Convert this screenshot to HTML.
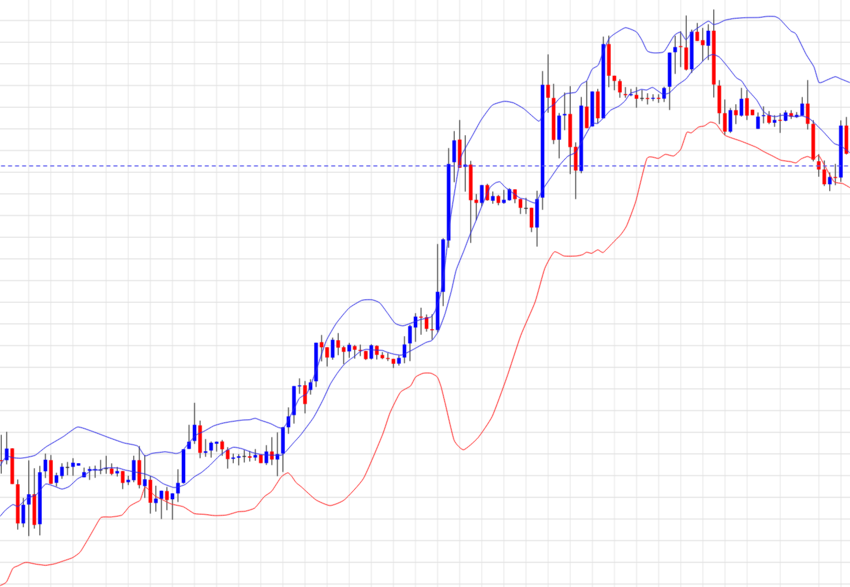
<!DOCTYPE html><html><head><meta charset="utf-8"><style>html,body{margin:0;padding:0;background:#fff;width:850px;height:587px;overflow:hidden}svg{display:block}#w{width:850px;height:587px}</style></head><body>
<div id="w">
<svg width="850" height="587" viewBox="0 0 850 587">
<defs><g id="c"><rect x="-5" y="-5" width="860" height="597" fill="#fff"/>
<g stroke="#efefef" stroke-width="1.1">
<line x1="28.7" y1="-5" x2="28.7" y2="592"/>
<line x1="50.8" y1="-5" x2="50.8" y2="592"/>
<line x1="72.9" y1="-5" x2="72.9" y2="592"/>
<line x1="106.1" y1="-5" x2="106.1" y2="592"/>
<line x1="128.2" y1="-5" x2="128.2" y2="592"/>
<line x1="150.3" y1="-5" x2="150.3" y2="592"/>
<line x1="172.4" y1="-5" x2="172.4" y2="592"/>
<line x1="194.5" y1="-5" x2="194.5" y2="592"/>
<line x1="216.6" y1="-5" x2="216.6" y2="592"/>
<line x1="238.7" y1="-5" x2="238.7" y2="592"/>
<line x1="260.8" y1="-5" x2="260.8" y2="592"/>
<line x1="282.9" y1="-5" x2="282.9" y2="592"/>
<line x1="305.0" y1="-5" x2="305.0" y2="592"/>
<line x1="327.1" y1="-5" x2="327.1" y2="592"/>
<line x1="349.2" y1="-5" x2="349.2" y2="592"/>
<line x1="371.3" y1="-5" x2="371.3" y2="592"/>
<line x1="393.4" y1="-5" x2="393.4" y2="592"/>
<line x1="415.5" y1="-5" x2="415.5" y2="592"/>
<line x1="437.6" y1="-5" x2="437.6" y2="592"/>
<line x1="459.7" y1="-5" x2="459.7" y2="592"/>
<line x1="481.8" y1="-5" x2="481.8" y2="592"/>
<line x1="503.9" y1="-5" x2="503.9" y2="592"/>
<line x1="526.0" y1="-5" x2="526.0" y2="592"/>
<line x1="548.1" y1="-5" x2="548.1" y2="592"/>
<line x1="570.2" y1="-5" x2="570.2" y2="592"/>
<line x1="592.4" y1="-5" x2="592.4" y2="592"/>
<line x1="614.5" y1="-5" x2="614.5" y2="592"/>
<line x1="636.6" y1="-5" x2="636.6" y2="592"/>
<line x1="658.7" y1="-5" x2="658.7" y2="592"/>
<line x1="680.8" y1="-5" x2="680.8" y2="592"/>
<line x1="702.9" y1="-5" x2="702.9" y2="592"/>
<line x1="725.0" y1="-5" x2="725.0" y2="592"/>
<line x1="747.1" y1="-5" x2="747.1" y2="592"/>
<line x1="780.2" y1="-5" x2="780.2" y2="592"/>
<line x1="818.9" y1="-5" x2="818.9" y2="592"/>
<line x1="841.0" y1="-5" x2="841.0" y2="592"/>
</g><g stroke="#e3e3e3" stroke-width="1">
<line x1="-5" y1="20.5" x2="855" y2="20.5"/>
<line x1="-5" y1="42.2" x2="855" y2="42.2"/>
<line x1="-5" y1="63.8" x2="855" y2="63.8"/>
<line x1="-5" y1="85.5" x2="855" y2="85.5"/>
<line x1="-5" y1="107.2" x2="855" y2="107.2"/>
<line x1="-5" y1="128.9" x2="855" y2="128.9"/>
<line x1="-5" y1="150.5" x2="855" y2="150.5"/>
<line x1="-5" y1="172.2" x2="855" y2="172.2"/>
<line x1="-5" y1="193.9" x2="855" y2="193.9"/>
<line x1="-5" y1="215.5" x2="855" y2="215.5"/>
<line x1="-5" y1="237.2" x2="855" y2="237.2"/>
<line x1="-5" y1="258.9" x2="855" y2="258.9"/>
<line x1="-5" y1="280.6" x2="855" y2="280.6"/>
<line x1="-5" y1="302.2" x2="855" y2="302.2"/>
<line x1="-5" y1="323.9" x2="855" y2="323.9"/>
<line x1="-5" y1="345.6" x2="855" y2="345.6"/>
<line x1="-5" y1="367.3" x2="855" y2="367.3"/>
<line x1="-5" y1="388.9" x2="855" y2="388.9"/>
<line x1="-5" y1="410.6" x2="855" y2="410.6"/>
<line x1="-5" y1="432.3" x2="855" y2="432.3"/>
<line x1="-5" y1="453.9" x2="855" y2="453.9"/>
<line x1="-5" y1="475.6" x2="855" y2="475.6"/>
<line x1="-5" y1="497.3" x2="855" y2="497.3"/>
<line x1="-5" y1="519.0" x2="855" y2="519.0"/>
<line x1="-5" y1="540.6" x2="855" y2="540.6"/>
<line x1="-5" y1="562.3" x2="855" y2="562.3"/>
<line x1="-5" y1="584.0" x2="855" y2="584.0"/>
</g>
<g stroke="#4a4a4a" stroke-width="1">
<line x1="1.20" y1="434.8" x2="1.20" y2="473.6"/>
<line x1="6.72" y1="431.8" x2="6.72" y2="464.4"/>
<line x1="12.25" y1="448.4" x2="12.25" y2="484.0"/>
<line x1="17.77" y1="479.5" x2="17.77" y2="529.6"/>
<line x1="23.30" y1="497.9" x2="23.30" y2="527.2"/>
<line x1="28.82" y1="460.4" x2="28.82" y2="536.1"/>
<line x1="34.34" y1="468.3" x2="34.34" y2="528.6"/>
<line x1="39.87" y1="465.9" x2="39.87" y2="535.4"/>
<line x1="45.39" y1="453.6" x2="45.39" y2="478.0"/>
<line x1="50.92" y1="455.0" x2="50.92" y2="484.0"/>
<line x1="56.44" y1="472.7" x2="56.44" y2="486.5"/>
<line x1="61.96" y1="463.3" x2="61.96" y2="478.8"/>
<line x1="67.49" y1="462.0" x2="67.49" y2="475.3"/>
<line x1="73.01" y1="458.2" x2="73.01" y2="475.8"/>
<line x1="78.54" y1="463.3" x2="78.54" y2="465.6"/>
<line x1="84.06" y1="467.6" x2="84.06" y2="477.3"/>
<line x1="89.59" y1="466.4" x2="89.59" y2="479.9"/>
<line x1="95.11" y1="465.6" x2="95.11" y2="477.8"/>
<line x1="100.63" y1="459.9" x2="100.63" y2="474.2"/>
<line x1="106.16" y1="455.8" x2="106.16" y2="473.7"/>
<line x1="111.68" y1="463.4" x2="111.68" y2="475.2"/>
<line x1="117.21" y1="467.0" x2="117.21" y2="476.5"/>
<line x1="122.73" y1="471.1" x2="122.73" y2="489.1"/>
<line x1="128.25" y1="475.7" x2="128.25" y2="485.0"/>
<line x1="133.78" y1="455.7" x2="133.78" y2="482.2"/>
<line x1="139.30" y1="446.1" x2="139.30" y2="488.4"/>
<line x1="144.83" y1="455.0" x2="144.83" y2="497.9"/>
<line x1="150.35" y1="476.0" x2="150.35" y2="513.6"/>
<line x1="155.87" y1="485.7" x2="155.87" y2="511.6"/>
<line x1="161.40" y1="490.7" x2="161.40" y2="519.0"/>
<line x1="166.92" y1="487.0" x2="166.92" y2="510.2"/>
<line x1="172.45" y1="493.4" x2="172.45" y2="519.7"/>
<line x1="177.97" y1="469.3" x2="177.97" y2="502.0"/>
<line x1="183.49" y1="449.3" x2="183.49" y2="483.6"/>
<line x1="189.02" y1="424.8" x2="189.02" y2="448.9"/>
<line x1="194.54" y1="402.8" x2="194.54" y2="443.9"/>
<line x1="200.07" y1="420.6" x2="200.07" y2="458.2"/>
<line x1="205.59" y1="439.1" x2="205.59" y2="456.8"/>
<line x1="211.12" y1="441.5" x2="211.12" y2="457.6"/>
<line x1="216.64" y1="441.5" x2="216.64" y2="451.6"/>
<line x1="222.16" y1="440.0" x2="222.16" y2="455.8"/>
<line x1="227.69" y1="447.2" x2="227.69" y2="468.6"/>
<line x1="233.21" y1="453.6" x2="233.21" y2="463.2"/>
<line x1="238.74" y1="454.1" x2="238.74" y2="465.4"/>
<line x1="244.26" y1="449.9" x2="244.26" y2="462.5"/>
<line x1="249.78" y1="451.1" x2="249.78" y2="461.5"/>
<line x1="255.31" y1="449.1" x2="255.31" y2="460.7"/>
<line x1="260.83" y1="454.7" x2="260.83" y2="463.1"/>
<line x1="266.36" y1="445.2" x2="266.36" y2="464.9"/>
<line x1="271.88" y1="437.2" x2="271.88" y2="465.1"/>
<line x1="277.40" y1="432.4" x2="277.40" y2="476.2"/>
<line x1="282.93" y1="427.0" x2="282.93" y2="472.0"/>
<line x1="288.45" y1="407.4" x2="288.45" y2="433.8"/>
<line x1="293.98" y1="386.1" x2="293.98" y2="423.6"/>
<line x1="299.50" y1="378.4" x2="299.50" y2="393.8"/>
<line x1="305.02" y1="381.0" x2="305.02" y2="413.4"/>
<line x1="310.55" y1="379.3" x2="310.55" y2="394.6"/>
<line x1="316.07" y1="342.7" x2="316.07" y2="387.0"/>
<line x1="321.60" y1="335.0" x2="321.60" y2="361.4"/>
<line x1="327.12" y1="347.3" x2="327.12" y2="366.5"/>
<line x1="332.65" y1="337.6" x2="332.65" y2="359.7"/>
<line x1="338.17" y1="333.1" x2="338.17" y2="355.2"/>
<line x1="343.69" y1="345.9" x2="343.69" y2="364.2"/>
<line x1="349.22" y1="342.9" x2="349.22" y2="357.8"/>
<line x1="354.74" y1="345.0" x2="354.74" y2="358.6"/>
<line x1="360.27" y1="344.6" x2="360.27" y2="356.1"/>
<line x1="365.79" y1="351.0" x2="365.79" y2="359.9"/>
<line x1="371.31" y1="344.2" x2="371.31" y2="359.5"/>
<line x1="376.84" y1="345.4" x2="376.84" y2="359.5"/>
<line x1="382.36" y1="352.1" x2="382.36" y2="359.1"/>
<line x1="387.89" y1="353.0" x2="387.89" y2="361.0"/>
<line x1="393.41" y1="358.8" x2="393.41" y2="368.0"/>
<line x1="398.93" y1="355.4" x2="398.93" y2="365.6"/>
<line x1="404.46" y1="336.3" x2="404.46" y2="363.3"/>
<line x1="409.98" y1="324.8" x2="409.98" y2="361.1"/>
<line x1="415.51" y1="313.2" x2="415.51" y2="341.8"/>
<line x1="421.03" y1="307.7" x2="421.03" y2="334.7"/>
<line x1="426.56" y1="314.5" x2="426.56" y2="331.6"/>
<line x1="432.08" y1="314.3" x2="432.08" y2="339.7"/>
<line x1="437.60" y1="244.0" x2="437.60" y2="332.4"/>
<line x1="443.13" y1="238.2" x2="443.13" y2="306.1"/>
<line x1="448.65" y1="148.1" x2="448.65" y2="247.7"/>
<line x1="454.18" y1="131.1" x2="454.18" y2="182.2"/>
<line x1="459.70" y1="120.0" x2="459.70" y2="167.7"/>
<line x1="465.22" y1="135.3" x2="465.22" y2="191.6"/>
<line x1="470.75" y1="160.9" x2="470.75" y2="242.9"/>
<line x1="476.27" y1="194.0" x2="476.27" y2="220.1"/>
<line x1="481.80" y1="185.1" x2="481.80" y2="206.3"/>
<line x1="487.32" y1="183.8" x2="487.32" y2="200.7"/>
<line x1="492.84" y1="191.5" x2="492.84" y2="203.7"/>
<line x1="498.37" y1="195.0" x2="498.37" y2="205.3"/>
<line x1="503.89" y1="189.9" x2="503.89" y2="203.7"/>
<line x1="509.42" y1="188.2" x2="509.42" y2="200.7"/>
<line x1="514.94" y1="189.4" x2="514.94" y2="203.2"/>
<line x1="520.46" y1="199.1" x2="520.46" y2="214.0"/>
<line x1="525.99" y1="197.8" x2="525.99" y2="214.0"/>
<line x1="531.51" y1="207.8" x2="531.51" y2="232.1"/>
<line x1="537.04" y1="190.7" x2="537.04" y2="246.6"/>
<line x1="542.56" y1="71.1" x2="542.56" y2="209.8"/>
<line x1="548.09" y1="54.4" x2="548.09" y2="112.7"/>
<line x1="553.61" y1="83.8" x2="553.61" y2="144.1"/>
<line x1="559.13" y1="113.0" x2="559.13" y2="158.4"/>
<line x1="564.66" y1="92.5" x2="564.66" y2="130.2"/>
<line x1="570.18" y1="86.1" x2="570.18" y2="174.1"/>
<line x1="575.71" y1="142.4" x2="575.71" y2="199.1"/>
<line x1="581.23" y1="97.0" x2="581.23" y2="173.2"/>
<line x1="586.75" y1="81.1" x2="586.75" y2="128.1"/>
<line x1="592.28" y1="91.5" x2="592.28" y2="126.4"/>
<line x1="597.80" y1="88.9" x2="597.80" y2="123.4"/>
<line x1="603.33" y1="36.6" x2="603.33" y2="118.3"/>
<line x1="608.85" y1="35.6" x2="608.85" y2="87.2"/>
<line x1="614.37" y1="75.7" x2="614.37" y2="90.3"/>
<line x1="619.90" y1="79.2" x2="619.90" y2="97.7"/>
<line x1="625.42" y1="87.1" x2="625.42" y2="97.7"/>
<line x1="630.95" y1="88.9" x2="630.95" y2="96.2"/>
<line x1="636.47" y1="87.1" x2="636.47" y2="107.7"/>
<line x1="642.00" y1="89.9" x2="642.00" y2="101.0"/>
<line x1="647.52" y1="93.3" x2="647.52" y2="104.5"/>
<line x1="653.04" y1="94.3" x2="653.04" y2="101.1"/>
<line x1="658.57" y1="94.3" x2="658.57" y2="102.8"/>
<line x1="664.09" y1="86.7" x2="664.09" y2="102.0"/>
<line x1="669.62" y1="52.6" x2="669.62" y2="110.0"/>
<line x1="675.14" y1="35.6" x2="675.14" y2="73.9"/>
<line x1="680.66" y1="31.3" x2="680.66" y2="67.1"/>
<line x1="686.19" y1="15.5" x2="686.19" y2="70.5"/>
<line x1="691.71" y1="29.6" x2="691.71" y2="73.0"/>
<line x1="697.24" y1="23.0" x2="697.24" y2="40.9"/>
<line x1="702.76" y1="27.9" x2="702.76" y2="61.3"/>
<line x1="708.28" y1="24.3" x2="708.28" y2="60.0"/>
<line x1="713.81" y1="9.5" x2="713.81" y2="97.5"/>
<line x1="719.33" y1="80.2" x2="719.33" y2="124.1"/>
<line x1="724.86" y1="99.5" x2="724.86" y2="135.0"/>
<line x1="730.38" y1="108.0" x2="730.38" y2="132.9"/>
<line x1="735.90" y1="104.3" x2="735.90" y2="124.1"/>
<line x1="741.43" y1="87.9" x2="741.43" y2="116.6"/>
<line x1="746.95" y1="90.0" x2="746.95" y2="120.0"/>
<line x1="752.48" y1="109.7" x2="752.48" y2="115.2"/>
<line x1="758.00" y1="112.5" x2="758.00" y2="128.8"/>
<line x1="763.53" y1="106.4" x2="763.53" y2="123.4"/>
<line x1="769.05" y1="111.1" x2="769.05" y2="124.1"/>
<line x1="774.57" y1="115.2" x2="774.57" y2="126.8"/>
<line x1="780.10" y1="113.2" x2="780.10" y2="132.9"/>
<line x1="785.62" y1="110.4" x2="785.62" y2="121.3"/>
<line x1="791.15" y1="110.2" x2="791.15" y2="118.9"/>
<line x1="796.67" y1="112.1" x2="796.67" y2="117.9"/>
<line x1="802.19" y1="97.1" x2="802.19" y2="115.6"/>
<line x1="807.72" y1="80.1" x2="807.72" y2="129.5"/>
<line x1="813.24" y1="120.2" x2="813.24" y2="161.4"/>
<line x1="818.77" y1="154.2" x2="818.77" y2="176.7"/>
<line x1="824.29" y1="160.5" x2="824.29" y2="186.0"/>
<line x1="829.81" y1="172.4" x2="829.81" y2="191.1"/>
<line x1="835.34" y1="163.9" x2="835.34" y2="185.2"/>
<line x1="840.86" y1="120.4" x2="840.86" y2="181.8"/>
<line x1="846.39" y1="117.0" x2="846.39" y2="154.5"/>
</g>
<rect x="-0.60" y="460.2" width="3.6" height="1.0" fill="#ff0000"/>
<rect x="4.92" y="448.6" width="3.6" height="11.6" fill="#0000ff"/>
<rect x="10.45" y="448.4" width="3.6" height="35.6" fill="#ff0000"/>
<rect x="15.97" y="484.3" width="3.6" height="39.1" fill="#ff0000"/>
<rect x="21.50" y="504.8" width="3.6" height="18.6" fill="#0000ff"/>
<rect x="27.02" y="494.3" width="3.6" height="10.2" fill="#0000ff"/>
<rect x="32.54" y="494.3" width="3.6" height="30.6" fill="#ff0000"/>
<rect x="38.07" y="472.3" width="3.6" height="51.9" fill="#0000ff"/>
<rect x="43.59" y="459.7" width="3.6" height="11.6" fill="#0000ff"/>
<rect x="49.12" y="460.2" width="3.6" height="23.5" fill="#ff0000"/>
<rect x="54.64" y="475.3" width="3.6" height="7.5" fill="#0000ff"/>
<rect x="60.16" y="466.8" width="3.6" height="9.2" fill="#0000ff"/>
<rect x="65.69" y="466.9" width="3.6" height="1" fill="#303030"/>
<rect x="71.21" y="462.7" width="3.6" height="4.1" fill="#0000ff"/>
<rect x="76.74" y="463.3" width="3.6" height="2.3" fill="#0000ff"/>
<rect x="82.26" y="472.2" width="3.6" height="5.1" fill="#0000ff"/>
<rect x="87.79" y="469.1" width="3.6" height="1.6" fill="#0000ff"/>
<rect x="93.31" y="469.1" width="3.6" height="1.3" fill="#0000ff"/>
<rect x="98.83" y="469.5" width="3.6" height="1" fill="#303030"/>
<rect x="104.36" y="468.1" width="3.6" height="1" fill="#303030"/>
<rect x="109.88" y="468.6" width="3.6" height="5.2" fill="#ff0000"/>
<rect x="115.41" y="471.1" width="3.6" height="2.3" fill="#0000ff"/>
<rect x="120.93" y="471.1" width="3.6" height="11.8" fill="#ff0000"/>
<rect x="126.45" y="479.8" width="3.6" height="2.4" fill="#0000ff"/>
<rect x="131.98" y="460.2" width="3.6" height="20.0" fill="#0000ff"/>
<rect x="137.50" y="460.2" width="3.6" height="24.8" fill="#ff0000"/>
<rect x="143.03" y="479.3" width="3.6" height="6.8" fill="#0000ff"/>
<rect x="148.55" y="479.8" width="3.6" height="22.9" fill="#ff0000"/>
<rect x="154.07" y="498.6" width="3.6" height="4.4" fill="#0000ff"/>
<rect x="159.60" y="490.7" width="3.6" height="8.2" fill="#0000ff"/>
<rect x="165.12" y="491.1" width="3.6" height="8.9" fill="#ff0000"/>
<rect x="170.65" y="493.4" width="3.6" height="5.9" fill="#0000ff"/>
<rect x="176.17" y="482.9" width="3.6" height="10.5" fill="#0000ff"/>
<rect x="181.69" y="449.3" width="3.6" height="33.6" fill="#0000ff"/>
<rect x="187.22" y="441.7" width="3.6" height="7.2" fill="#0000ff"/>
<rect x="192.74" y="424.8" width="3.6" height="16.1" fill="#0000ff"/>
<rect x="198.27" y="425.4" width="3.6" height="27.4" fill="#ff0000"/>
<rect x="203.79" y="451.3" width="3.6" height="1.5" fill="#0000ff"/>
<rect x="209.32" y="442.7" width="3.6" height="7.8" fill="#0000ff"/>
<rect x="214.84" y="441.7" width="3.6" height="2.0" fill="#0000ff"/>
<rect x="220.36" y="441.5" width="3.6" height="7.8" fill="#ff0000"/>
<rect x="225.89" y="449.9" width="3.6" height="9.2" fill="#ff0000"/>
<rect x="231.41" y="457.5" width="3.6" height="1.3" fill="#0000ff"/>
<rect x="236.94" y="456.3" width="3.6" height="1.4" fill="#0000ff"/>
<rect x="242.46" y="455.9" width="3.6" height="1" fill="#303030"/>
<rect x="247.98" y="456.3" width="3.6" height="1.4" fill="#ff0000"/>
<rect x="253.51" y="455.0" width="3.6" height="2.5" fill="#0000ff"/>
<rect x="259.03" y="454.7" width="3.6" height="8.4" fill="#ff0000"/>
<rect x="264.56" y="451.5" width="3.6" height="11.6" fill="#0000ff"/>
<rect x="270.08" y="451.5" width="3.6" height="8.0" fill="#ff0000"/>
<rect x="275.60" y="454.1" width="3.6" height="5.4" fill="#0000ff"/>
<rect x="281.13" y="427.3" width="3.6" height="26.2" fill="#0000ff"/>
<rect x="286.65" y="416.4" width="3.6" height="10.9" fill="#0000ff"/>
<rect x="292.18" y="386.1" width="3.6" height="29.0" fill="#0000ff"/>
<rect x="297.70" y="385.4" width="3.6" height="1.0" fill="#0000ff"/>
<rect x="303.22" y="385.3" width="3.6" height="18.7" fill="#ff0000"/>
<rect x="308.75" y="382.4" width="3.6" height="7.5" fill="#0000ff"/>
<rect x="314.27" y="342.7" width="3.6" height="38.6" fill="#0000ff"/>
<rect x="319.80" y="342.2" width="3.6" height="5.1" fill="#ff0000"/>
<rect x="325.32" y="347.3" width="3.6" height="10.2" fill="#ff0000"/>
<rect x="330.85" y="339.8" width="3.6" height="17.8" fill="#0000ff"/>
<rect x="336.37" y="340.3" width="3.6" height="7.3" fill="#ff0000"/>
<rect x="341.89" y="347.3" width="3.6" height="4.5" fill="#ff0000"/>
<rect x="347.42" y="344.8" width="3.6" height="6.6" fill="#0000ff"/>
<rect x="352.94" y="346.1" width="3.6" height="3.6" fill="#ff0000"/>
<rect x="358.47" y="349.9" width="3.6" height="1.0" fill="#ff0000"/>
<rect x="363.99" y="351.0" width="3.6" height="8.1" fill="#ff0000"/>
<rect x="369.51" y="345.3" width="3.6" height="13.3" fill="#0000ff"/>
<rect x="375.04" y="345.9" width="3.6" height="8.9" fill="#ff0000"/>
<rect x="380.56" y="355.0" width="3.6" height="3.2" fill="#ff0000"/>
<rect x="386.09" y="358.0" width="3.6" height="1.0" fill="#ff0000"/>
<rect x="391.61" y="358.9" width="3.6" height="4.8" fill="#ff0000"/>
<rect x="397.13" y="357.9" width="3.6" height="5.7" fill="#0000ff"/>
<rect x="402.66" y="344.5" width="3.6" height="13.0" fill="#0000ff"/>
<rect x="408.18" y="326.1" width="3.6" height="17.3" fill="#0000ff"/>
<rect x="413.71" y="316.6" width="3.6" height="10.9" fill="#0000ff"/>
<rect x="419.23" y="316.6" width="3.6" height="1.0" fill="#ff0000"/>
<rect x="424.76" y="317.3" width="3.6" height="11.5" fill="#ff0000"/>
<rect x="430.28" y="329.3" width="3.6" height="1.0" fill="#ff0000"/>
<rect x="435.80" y="291.8" width="3.6" height="38.2" fill="#0000ff"/>
<rect x="441.33" y="239.4" width="3.6" height="52.4" fill="#0000ff"/>
<rect x="446.85" y="164.0" width="3.6" height="76.5" fill="#0000ff"/>
<rect x="452.38" y="140.4" width="3.6" height="21.8" fill="#0000ff"/>
<rect x="457.90" y="139.6" width="3.6" height="28.1" fill="#ff0000"/>
<rect x="463.42" y="164.6" width="3.6" height="2.2" fill="#0000ff"/>
<rect x="468.95" y="164.6" width="3.6" height="35.6" fill="#ff0000"/>
<rect x="474.47" y="199.8" width="3.6" height="3.1" fill="#ff0000"/>
<rect x="480.00" y="185.1" width="3.6" height="17.8" fill="#0000ff"/>
<rect x="485.52" y="185.1" width="3.6" height="15.1" fill="#ff0000"/>
<rect x="491.04" y="196.1" width="3.6" height="4.6" fill="#0000ff"/>
<rect x="496.57" y="196.1" width="3.6" height="6.8" fill="#ff0000"/>
<rect x="502.09" y="199.8" width="3.6" height="3.1" fill="#0000ff"/>
<rect x="507.62" y="189.2" width="3.6" height="11.0" fill="#0000ff"/>
<rect x="513.14" y="189.4" width="3.6" height="9.7" fill="#ff0000"/>
<rect x="518.66" y="199.1" width="3.6" height="8.7" fill="#ff0000"/>
<rect x="524.19" y="207.8" width="3.6" height="1" fill="#303030"/>
<rect x="529.71" y="207.8" width="3.6" height="19.7" fill="#ff0000"/>
<rect x="535.24" y="199.1" width="3.6" height="28.4" fill="#0000ff"/>
<rect x="540.76" y="84.8" width="3.6" height="112.8" fill="#0000ff"/>
<rect x="546.29" y="84.8" width="3.6" height="12.9" fill="#ff0000"/>
<rect x="551.81" y="98.0" width="3.6" height="42.0" fill="#ff0000"/>
<rect x="557.33" y="115.6" width="3.6" height="24.1" fill="#0000ff"/>
<rect x="562.86" y="114.0" width="3.6" height="1.4" fill="#0000ff"/>
<rect x="568.38" y="114.0" width="3.6" height="33.1" fill="#ff0000"/>
<rect x="573.91" y="146.8" width="3.6" height="23.7" fill="#ff0000"/>
<rect x="579.43" y="105.6" width="3.6" height="65.4" fill="#0000ff"/>
<rect x="584.95" y="106.6" width="3.6" height="21.5" fill="#ff0000"/>
<rect x="590.48" y="91.5" width="3.6" height="34.9" fill="#0000ff"/>
<rect x="596.00" y="91.5" width="3.6" height="26.8" fill="#ff0000"/>
<rect x="601.53" y="44.1" width="3.6" height="74.2" fill="#0000ff"/>
<rect x="607.05" y="44.1" width="3.6" height="31.6" fill="#ff0000"/>
<rect x="612.57" y="75.7" width="3.6" height="5.2" fill="#ff0000"/>
<rect x="618.10" y="81.1" width="3.6" height="11.3" fill="#ff0000"/>
<rect x="623.62" y="94.1" width="3.6" height="1.1" fill="#ff0000"/>
<rect x="629.15" y="94.3" width="3.6" height="1.0" fill="#0000ff"/>
<rect x="634.67" y="94.9" width="3.6" height="3.8" fill="#ff0000"/>
<rect x="640.20" y="97.9" width="3.6" height="1" fill="#303030"/>
<rect x="645.72" y="98.0" width="3.6" height="1.0" fill="#ff0000"/>
<rect x="651.24" y="97.8" width="3.6" height="1.0" fill="#0000ff"/>
<rect x="656.77" y="97.8" width="3.6" height="1.0" fill="#ff0000"/>
<rect x="662.29" y="88.0" width="3.6" height="10.6" fill="#0000ff"/>
<rect x="667.82" y="52.6" width="3.6" height="34.1" fill="#0000ff"/>
<rect x="673.34" y="47.1" width="3.6" height="5.1" fill="#0000ff"/>
<rect x="678.86" y="46.1" width="3.6" height="1.0" fill="#ff0000"/>
<rect x="684.39" y="47.5" width="3.6" height="22.1" fill="#ff0000"/>
<rect x="689.91" y="31.8" width="3.6" height="37.5" fill="#0000ff"/>
<rect x="695.44" y="31.8" width="3.6" height="9.1" fill="#ff0000"/>
<rect x="700.96" y="40.2" width="3.6" height="5.0" fill="#ff0000"/>
<rect x="706.48" y="30.7" width="3.6" height="15.0" fill="#0000ff"/>
<rect x="712.01" y="30.7" width="3.6" height="53.8" fill="#ff0000"/>
<rect x="717.53" y="85.6" width="3.6" height="27.6" fill="#ff0000"/>
<rect x="723.06" y="113.2" width="3.6" height="18.4" fill="#ff0000"/>
<rect x="728.58" y="110.2" width="3.6" height="21.4" fill="#0000ff"/>
<rect x="734.10" y="110.2" width="3.6" height="5.0" fill="#ff0000"/>
<rect x="739.63" y="98.8" width="3.6" height="16.8" fill="#0000ff"/>
<rect x="745.15" y="98.2" width="3.6" height="17.4" fill="#ff0000"/>
<rect x="750.68" y="109.7" width="3.6" height="5.5" fill="#ff0000"/>
<rect x="756.20" y="116.6" width="3.6" height="12.2" fill="#0000ff"/>
<rect x="761.73" y="115.2" width="3.6" height="1.0" fill="#0000ff"/>
<rect x="767.25" y="115.2" width="3.6" height="7.5" fill="#ff0000"/>
<rect x="772.77" y="120.0" width="3.6" height="2.7" fill="#0000ff"/>
<rect x="778.30" y="119.8" width="3.6" height="1.0" fill="#ff0000"/>
<rect x="783.82" y="112.5" width="3.6" height="8.2" fill="#0000ff"/>
<rect x="789.35" y="113.2" width="3.6" height="3.4" fill="#ff0000"/>
<rect x="794.87" y="114.9" width="3.6" height="2.1" fill="#0000ff"/>
<rect x="800.39" y="103.6" width="3.6" height="12.0" fill="#0000ff"/>
<rect x="805.92" y="103.6" width="3.6" height="20.2" fill="#ff0000"/>
<rect x="811.44" y="123.9" width="3.6" height="35.7" fill="#ff0000"/>
<rect x="816.97" y="161.3" width="3.6" height="8.2" fill="#ff0000"/>
<rect x="822.49" y="169.5" width="3.6" height="14.8" fill="#ff0000"/>
<rect x="828.01" y="177.0" width="3.6" height="7.3" fill="#0000ff"/>
<rect x="833.54" y="177.0" width="3.6" height="1.0" fill="#ff0000"/>
<rect x="839.06" y="125.6" width="3.6" height="51.9" fill="#0000ff"/>
<rect x="844.59" y="125.6" width="3.6" height="28.1" fill="#ff0000"/>
<path fill="none" stroke="#2b2be6" stroke-width="0.85" stroke-linejoin="round" d="M0.0,466.0 C0.2,465.6 2.5,461.7 3.0,461.0 C3.5,460.3 5.0,457.9 5.5,457.5 C6.0,457.1 7.9,456.4 8.5,456.4 C9.1,456.4 12.0,457.7 13.0,457.8 C14.0,457.9 18.9,458.2 20.0,458.2 C21.1,458.2 24.7,457.8 26.0,457.5 C27.3,457.2 33.6,456.1 35.3,455.2 C37.0,454.3 43.5,448.6 45.9,447.0 C48.2,445.4 60.9,438.2 63.5,436.5 C66.1,434.8 75.2,427.4 77.6,427.0 C80.0,426.6 89.4,430.4 91.8,431.2 C94.2,432.0 103.3,435.5 105.9,436.5 C108.5,437.5 120.9,442.0 123.5,442.8 C126.1,443.6 135.8,444.9 137.6,446.0 C139.4,447.1 143.5,455.3 144.7,455.9 C145.9,456.5 150.7,453.7 151.8,453.4 C152.9,453.1 156.9,452.7 158.0,452.6 C159.1,452.5 163.9,451.8 165.0,451.8 C166.1,451.8 170.1,452.5 171.0,452.6 C171.9,452.7 175.2,453.5 176.0,453.5 C176.8,453.5 179.4,452.8 180.0,452.5 C180.6,452.2 182.2,450.9 183.5,449.5 C184.8,448.1 193.8,437.0 195.5,435.5 C197.2,434.0 202.3,432.2 203.8,431.4 C205.3,430.6 211.9,426.7 213.4,426.0 C214.9,425.3 220.3,423.8 221.7,423.4 C223.1,423.0 228.3,422.1 230.0,421.8 C231.7,421.5 240.6,420.3 242.2,420.1 C243.8,419.9 248.2,419.9 249.3,419.8 C250.4,419.7 254.3,418.2 255.3,418.3 C256.3,418.4 259.9,420.1 261.2,420.5 C262.5,420.9 269.4,423.1 270.8,423.7 C272.2,424.3 276.9,426.9 277.9,427.3 C278.9,427.7 282.0,428.4 282.7,428.2 C283.4,428.0 285.4,425.4 286.0,424.5 C286.6,423.6 288.7,419.3 289.5,417.7 C290.3,416.1 294.7,407.4 295.5,405.8 C296.3,404.2 298.5,399.4 299.1,398.6 C299.7,397.8 302.1,396.4 302.7,396.0 C303.3,395.6 306.1,394.8 306.8,393.8 C307.5,392.8 310.2,386.2 311.0,384.3 C311.8,382.4 314.5,375.1 315.8,371.5 C317.1,367.9 324.4,345.2 326.1,341.2 C327.8,337.2 334.4,326.1 336.3,323.3 C338.2,320.5 347.0,309.9 349.1,308.0 C351.2,306.1 360.0,301.0 361.9,300.3 C363.8,299.6 370.6,299.6 372.1,299.8 C373.6,300.0 378.5,301.8 379.8,302.9 C381.1,304.0 386.2,311.4 387.5,313.1 C388.8,314.8 393.8,322.2 395.1,323.3 C396.4,324.4 401.5,325.9 402.8,325.9 C404.1,325.9 409.0,323.8 410.5,323.3 C412.0,322.8 419.0,320.0 420.7,319.5 C422.4,319.0 429.7,317.8 430.9,317.0 C432.1,316.2 434.6,312.4 435.4,310.4 C436.2,308.4 440.1,296.5 440.9,292.7 C441.7,288.9 444.2,270.6 445.0,264.3 C445.8,258.0 449.7,224.4 450.6,217.5 C451.5,210.6 455.4,187.0 456.2,182.0 C457.0,177.0 459.9,160.4 460.7,157.5 C461.5,154.6 464.8,149.2 465.8,147.3 C466.8,145.5 471.3,137.6 472.6,135.3 C473.9,133.0 479.5,122.5 481.1,120.0 C482.7,117.5 490.2,106.9 492.1,105.3 C494.0,103.7 502.6,101.5 504.4,101.3 C506.2,101.1 512.0,102.3 513.6,102.9 C515.2,103.5 521.8,107.3 523.9,108.8 C526.0,110.3 537.1,120.8 538.7,121.2 C540.3,121.6 542.4,115.2 543.2,114.1 C544.0,113.0 547.7,108.7 548.6,107.9 C549.5,107.1 553.2,105.3 554.1,104.5 C555.0,103.7 558.5,99.3 559.5,98.4 C560.5,97.5 564.9,94.1 566.3,93.6 C567.7,93.1 574.6,93.0 575.9,92.2 C577.1,91.4 580.4,85.1 581.3,84.1 C582.2,83.1 585.9,82.0 586.8,80.7 C587.7,79.5 591.2,70.4 592.2,69.1 C593.2,67.8 597.2,66.7 598.2,65.2 C599.2,63.7 602.7,53.1 603.6,50.9 C604.5,48.7 608.2,40.0 609.1,38.6 C610.0,37.2 613.1,34.8 614.5,33.9 C615.9,33.0 623.6,27.9 625.4,27.7 C627.2,27.5 634.9,30.8 636.3,31.8 C637.7,32.8 640.9,38.4 641.8,40.0 C642.7,41.6 646.2,49.8 647.2,50.9 C648.2,52.0 652.2,52.8 653.6,52.9 C655.0,53.0 662.2,53.1 663.9,51.7 C665.6,50.3 672.7,37.2 674.1,35.6 C675.5,34.0 679.5,31.8 680.5,32.1 C681.5,32.5 685.0,39.8 686.0,39.8 C687.0,39.8 690.7,33.3 692.0,32.1 C693.3,30.9 700.4,26.1 701.8,25.2 C703.2,24.3 707.4,21.2 708.4,21.1 C709.4,21.0 712.5,24.3 713.4,24.5 C714.3,24.7 717.8,23.6 718.8,23.2 C719.8,22.8 723.7,20.6 725.0,20.2 C726.3,19.8 732.8,18.6 734.5,18.4 C736.2,18.2 743.4,17.8 745.4,17.7 C747.4,17.6 756.7,17.6 758.5,17.5 C760.3,17.4 765.6,16.5 767.0,16.4 C768.4,16.3 773.6,16.3 774.7,16.5 C775.8,16.7 778.4,17.9 779.8,19.1 C781.1,20.3 789.5,29.8 790.9,31.0 C792.2,32.2 794.7,32.1 796.0,34.1 C797.3,36.1 804.7,51.8 806.2,54.5 C807.7,57.2 812.8,64.5 813.9,66.8 C815.0,69.1 817.9,81.5 819.0,82.6 C820.1,83.7 825.4,80.6 826.7,80.1 C828.1,79.6 834.1,76.8 835.2,76.7 C836.3,76.6 839.1,78.2 840.3,78.7 C841.5,79.2 849.2,82.3 850.0,82.6"/>
<path fill="none" stroke="#2b2be6" stroke-width="0.85" stroke-linejoin="round" d="M0.0,516.4 C0.5,515.9 4.4,511.1 5.5,510.1 C6.6,509.1 11.7,504.9 12.8,504.6 C13.9,504.3 17.0,506.9 18.2,506.4 C19.4,505.9 25.8,499.2 27.3,498.2 C28.8,497.2 34.9,495.8 36.4,494.6 C37.9,493.4 44.1,484.7 45.6,484.0 C47.1,483.3 53.3,486.0 54.7,486.4 C56.1,486.8 60.8,489.1 62.0,489.1 C63.2,489.1 68.0,487.3 69.3,486.4 C70.6,485.5 76.3,479.8 77.6,478.8 C78.9,477.9 83.8,475.7 85.0,475.0 C86.2,474.3 90.5,470.4 91.8,470.0 C93.0,469.6 98.9,470.2 100.0,470.0 C101.1,469.8 103.5,468.2 105.0,468.0 C106.5,467.8 116.3,467.8 118.0,468.0 C119.7,468.2 123.6,469.7 125.0,470.0 C126.4,470.3 133.3,471.7 135.0,472.0 C136.7,472.3 143.3,473.5 145.0,474.0 C146.7,474.5 153.5,477.2 155.0,478.0 C156.5,478.8 161.5,482.8 163.0,483.6 C164.5,484.4 171.9,487.1 173.2,487.4 C174.4,487.7 177.0,487.3 178.0,487.0 C179.0,486.7 184.1,485.2 185.5,484.3 C186.9,483.4 193.0,477.8 194.3,476.8 C195.6,475.8 199.9,473.6 201.2,472.7 C202.4,471.8 207.8,467.3 209.3,465.9 C210.8,464.5 217.9,457.1 219.4,455.8 C220.9,454.5 226.5,450.6 227.7,449.9 C228.9,449.2 232.5,447.3 233.7,447.2 C234.9,447.1 240.6,448.3 242.2,448.8 C243.8,449.3 251.2,452.2 252.9,452.7 C254.6,453.2 260.9,454.5 262.4,454.7 C263.9,454.9 269.2,455.1 270.8,455.1 C272.4,455.1 280.2,455.4 281.5,455.1 C282.8,454.8 285.2,452.3 286.3,451.1 C287.4,449.9 293.8,442.5 295.0,441.2 C296.2,439.9 299.1,436.9 300.6,435.0 C302.1,433.1 311.4,420.8 313.3,417.9 C315.2,415.0 321.5,402.8 322.9,400.0 C324.3,397.2 329.2,386.2 330.4,384.0 C331.6,381.8 336.2,374.8 337.3,373.2 C338.4,371.6 343.0,365.6 344.1,364.5 C345.2,363.4 349.1,360.2 350.0,359.5 C350.9,358.8 353.4,357.2 354.3,356.5 C355.2,355.8 359.3,352.0 360.3,351.4 C361.3,350.8 365.3,349.4 366.2,349.3 C367.1,349.2 369.9,349.8 371.3,349.9 C372.7,350.0 381.2,350.2 382.4,350.4 C383.6,350.6 384.9,351.5 385.8,351.8 C386.7,352.1 391.9,353.7 393.2,354.0 C394.5,354.3 399.8,355.4 401.4,355.1 C403.0,354.8 410.3,351.1 412.3,350.0 C414.3,348.9 424.3,343.3 425.9,342.5 C427.5,341.7 431.0,341.3 432.0,340.4 C433.0,339.5 437.1,333.8 438.2,331.6 C439.3,329.4 443.9,317.4 445.0,313.9 C446.1,310.4 450.7,293.7 451.6,290.0 C452.5,286.3 455.2,273.2 456.2,270.0 C457.2,266.8 462.6,254.0 463.7,251.2 C464.8,248.4 468.5,238.5 469.4,236.2 C470.3,233.9 473.9,225.8 475.0,223.1 C476.1,220.4 481.2,207.4 482.5,204.4 C483.8,201.4 488.9,189.3 490.0,187.5 C491.1,185.7 494.8,183.3 495.6,182.8 C496.4,182.3 499.2,181.6 500.0,181.9 C500.8,182.2 503.9,186.1 504.8,186.9 C505.7,187.7 509.6,190.6 510.9,191.5 C512.2,192.4 518.9,197.5 520.1,198.1 C521.3,198.7 523.9,198.7 525.2,199.1 C526.5,199.5 533.8,203.7 535.3,202.9 C536.8,202.1 541.7,191.3 543.0,189.1 C544.3,186.9 550.0,178.8 551.4,176.8 C552.8,174.8 558.1,166.9 559.5,165.2 C560.9,163.5 566.3,157.4 567.7,156.3 C569.1,155.2 574.6,153.6 575.9,152.2 C577.1,150.8 581.3,142.4 582.7,140.0 C584.1,137.6 590.9,125.0 592.2,123.6 C593.5,122.2 596.7,124.1 597.8,123.4 C598.9,122.8 604.3,116.9 605.4,115.8 C606.5,114.7 609.5,111.0 610.6,110.2 C611.7,109.4 617.9,106.8 619.1,106.0 C620.3,105.2 624.1,101.9 625.0,100.9 C625.9,99.9 629.2,94.4 630.1,93.6 C631.0,92.8 635.2,91.8 636.1,91.5 C637.0,91.2 640.3,89.5 641.2,89.4 C642.1,89.3 645.8,90.2 646.8,90.0 C647.8,89.8 651.4,87.1 652.8,87.5 C654.1,87.9 661.6,93.9 663.0,94.3 C664.4,94.7 668.6,93.4 669.8,92.6 C671.0,91.8 676.1,86.1 677.5,85.0 C678.9,83.9 684.8,80.1 686.0,79.0 C687.2,77.9 690.8,72.5 692.0,71.3 C693.2,70.1 699.1,65.1 700.0,64.2 C700.9,63.3 702.5,61.3 703.2,60.6 C703.9,59.9 707.8,56.4 708.6,55.9 C709.5,55.4 712.5,54.4 713.4,54.5 C714.3,54.6 718.3,56.2 719.5,57.2 C720.7,58.2 726.3,65.1 727.7,66.8 C729.1,68.5 735.1,76.5 736.3,77.7 C737.5,78.9 740.9,80.1 741.8,81.1 C742.7,82.1 746.0,87.7 747.2,89.3 C748.5,90.9 755.5,98.4 756.8,100.2 C758.1,102.0 762.2,109.8 763.2,111.1 C764.2,112.3 767.6,114.7 768.6,115.2 C769.6,115.7 774.3,116.6 775.4,116.6 C776.5,116.6 781.2,115.3 782.3,115.2 C783.4,115.1 788.0,115.8 789.1,115.9 C790.2,116.0 794.8,116.6 795.9,116.6 C797.0,116.6 801.0,115.8 802.0,115.9 C803.0,116.0 807.2,117.4 808.2,117.9 C809.2,118.4 812.3,120.9 813.6,122.1 C814.9,123.3 822.2,130.6 823.9,132.4 C825.6,134.2 832.7,142.3 834.1,143.4 C835.5,144.5 839.6,145.2 840.9,146.0 C842.2,146.8 849.2,152.2 850.0,152.8"/>
<path fill="none" stroke="#ff2020" stroke-width="0.85" stroke-linejoin="round" d="M0.0,585.7 C0.5,585.4 5.3,583.5 6.4,582.1 C7.5,580.7 11.8,569.8 12.8,568.4 C13.8,567.0 17.3,566.2 18.2,565.7 C19.1,565.2 22.9,563.2 23.7,562.9 C24.5,562.6 26.2,562.3 27.3,562.4 C28.4,562.5 34.9,564.0 36.4,564.2 C37.9,564.4 44.1,565.3 45.6,565.3 C47.1,565.3 53.0,564.2 54.7,563.8 C56.4,563.4 64.1,560.7 65.6,560.2 C67.1,559.7 71.7,558.2 72.9,557.5 C74.1,556.8 79.0,553.5 80.2,552.0 C81.4,550.5 86.3,542.1 87.5,540.1 C88.7,538.1 93.7,529.3 94.8,527.4 C95.9,525.5 99.7,518.3 101.1,517.4 C102.5,516.5 109.5,517.2 111.2,517.0 C113.0,516.8 120.6,515.9 122.1,515.0 C123.6,514.1 128.2,507.5 129.4,506.4 C130.6,505.3 135.8,502.7 136.7,502.2 C137.6,501.7 139.6,501.2 140.3,500.0 C141.0,498.8 144.1,488.1 144.9,487.3 C145.7,486.5 149.2,490.2 150.0,490.9 C150.8,491.6 153.9,495.2 155.0,496.0 C156.1,496.8 161.7,499.3 163.0,500.0 C164.3,500.7 169.5,503.4 171.2,504.0 C172.9,504.6 181.5,506.0 183.4,506.8 C185.3,507.6 192.6,513.0 194.3,513.6 C196.0,514.2 202.2,514.1 203.9,514.3 C205.6,514.5 212.9,515.5 214.8,515.6 C216.7,515.7 224.7,515.3 226.6,515.0 C228.5,514.7 236.3,512.1 237.9,511.8 C239.5,511.5 244.0,511.5 245.4,511.2 C246.8,510.9 253.2,509.2 254.8,508.0 C256.4,506.8 262.8,498.1 264.2,496.7 C265.6,495.3 270.4,492.8 271.8,491.1 C273.2,489.5 279.9,478.4 281.2,476.9 C282.5,475.4 286.9,472.9 287.8,472.8 C288.7,472.7 290.8,475.2 291.5,476.0 C292.2,476.8 295.2,481.6 296.0,482.5 C296.8,483.4 299.9,485.6 301.5,487.0 C303.1,488.4 313.4,498.2 315.8,499.8 C318.2,501.4 327.7,505.6 330.1,505.6 C332.5,505.6 341.6,502.1 344.4,499.8 C347.2,497.5 360.3,483.8 363.5,478.4 C366.7,473.0 380.2,440.5 382.4,435.0 C384.6,429.5 388.5,416.4 390.0,412.8 C391.5,409.2 398.6,394.6 400.3,392.4 C402.0,390.2 409.2,387.3 410.5,386.0 C411.8,384.7 414.5,378.1 415.6,377.0 C416.7,375.9 422.0,373.5 423.3,373.2 C424.6,372.9 429.7,372.9 430.9,373.2 C432.1,373.5 436.4,375.8 437.3,377.0 C438.2,378.2 440.6,385.1 441.2,387.2 C441.8,389.3 443.9,398.2 445.0,402.6 C446.1,407.0 452.6,436.3 454.1,440.2 C455.7,444.1 461.6,450.0 463.6,449.8 C465.6,449.6 475.5,440.7 477.9,437.9 C480.3,435.1 489.8,421.4 492.2,416.4 C494.6,411.4 504.1,385.1 506.5,378.3 C508.9,371.6 518.4,341.8 520.8,335.4 C523.2,329.0 533.1,307.6 535.1,302.0 C537.1,296.4 543.1,272.8 544.7,268.6 C546.3,264.4 552.6,253.0 554.2,251.9 C555.8,250.8 562.2,255.7 564.1,256.0 C566.0,256.3 574.9,256.1 576.4,256.0 C577.9,255.9 581.6,255.0 582.5,254.7 C583.4,254.4 585.8,252.3 586.6,252.2 C587.4,252.1 590.8,253.5 591.7,253.3 C592.6,253.1 596.8,249.9 597.8,249.8 C598.8,249.7 601.9,253.0 603.1,252.5 C604.3,252.0 610.9,244.8 612.3,243.3 C613.7,241.9 619.2,236.5 620.4,235.1 C621.6,233.7 625.3,228.7 626.6,225.9 C627.9,223.1 634.1,206.9 635.8,201.3 C637.5,195.7 645.1,162.0 647.0,158.4 C648.9,154.8 656.8,158.7 658.3,158.4 C659.8,158.1 664.1,154.5 665.4,154.3 C666.7,154.1 672.3,156.4 673.6,156.0 C674.9,155.6 679.7,151.2 680.8,149.2 C681.9,147.2 685.9,133.8 686.8,132.4 C687.7,131.0 690.2,133.3 691.2,132.9 C692.2,132.5 697.4,127.7 698.5,127.1 C699.6,126.5 703.4,126.3 704.4,125.9 C705.4,125.5 709.3,122.2 710.3,122.1 C711.3,121.9 715.0,123.0 716.2,124.1 C717.4,125.2 722.9,133.9 725.0,135.3 C727.1,136.7 738.6,140.2 741.2,141.2 C743.8,142.2 754.1,146.3 755.9,147.1 C757.7,147.9 761.9,150.6 763.2,151.3 C764.5,152.0 769.9,154.7 771.4,155.4 C772.9,156.1 779.3,159.7 780.9,160.2 C782.5,160.7 789.1,161.4 790.4,161.6 C791.6,161.8 795.0,163.1 795.9,162.9 C796.8,162.7 800.3,159.3 801.3,158.8 C802.3,158.3 806.5,156.5 807.5,156.5 C808.5,156.5 812.7,158.9 813.6,158.8 C814.5,158.7 817.7,154.7 818.7,155.4 C819.7,156.1 824.3,165.1 825.6,167.3 C826.9,169.5 832.7,180.5 834.1,181.8 C835.5,183.2 841.3,183.0 842.6,183.5 C843.9,184.0 849.4,187.3 850.0,187.7"/>
<line x1="0" y1="165.9" x2="850" y2="165.9" stroke="#5858f0" stroke-width="1.1" stroke-dasharray="4,3.025" stroke-dashoffset="-1.06"/>
</g></defs>
<use href="#c" transform="translate(-0.3,-0.3)"/>
<use href="#c" transform="translate(0.3,-0.3)" opacity="0.5"/>
<use href="#c" transform="translate(-0.3,0.3)" opacity="0.3333"/>
<use href="#c" transform="translate(0.3,0.3)" opacity="0.25"/>
</svg></div></body></html>
